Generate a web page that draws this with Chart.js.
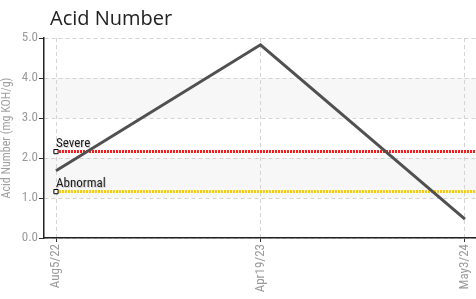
<!DOCTYPE html>
<html>
<head>
<meta charset="utf-8">
<script src="https://cdn.jsdelivr.net/npm/chart.js@4/dist/chart.umd.min.js"></script>
<style>
html,body{margin:0;padding:0;background:#fff;}
#wrap{width:476px;height:299px;position:relative;}
</style>
</head>
<body>
<div id="wrap"><canvas id="c" width="476" height="299"></canvas></div>
<script>
const chartTitle = 'Acid Number';
const yAxisTitle = 'Acid Number (mg KOH/g)';
const categories = ['Aug5/22', 'Apr19/23', 'May3/24'];
const acidValues = [1.68, 4.83, 0.47];
const severeLimit = 2.16;
const abnormalLimit = 1.16;
const limitNames = ['Severe', 'Abnormal'];
const yTicks = [0, 1, 2, 3, 4, 5];
const bands = [[1, 2], [3, 4]];

const NARROW = "'Roboto Condensed','DejaVu Sans Condensed',sans-serif";
const xMin = -0.0587, xMax = 2.054;

const mainData = acidValues.map((v, i) => ({x: i, y: v}));
const severeData = [{x: 0, y: severeLimit}, {x: xMax, y: severeLimit}];
const abnormalData = [{x: 0, y: abnormalLimit}, {x: xMax, y: abnormalLimit}];

const decor = {
  id: 'decor',
  beforeDraw(chart) {
    const {ctx, chartArea: a, scales: {y}} = chart;
    ctx.save();
    ctx.fillStyle = '#fff';
    ctx.fillRect(0, 0, chart.width, chart.height);
    ctx.fillStyle = '#f7f7f7';
    bands.forEach(([lo, hi]) => {
      const y1 = y.getPixelForValue(hi), y2 = y.getPixelForValue(lo);
      ctx.fillRect(a.left, y1, a.right - a.left, y2 - y1);
    });
    ctx.fillStyle = '#222';
    ctx.font = "20px 'Open Sans', sans-serif";
    ctx.textBaseline = 'alphabetic';
    ctx.fillText(chartTitle, 50, 25);
    ctx.restore();
  },
  afterDatasetsDraw(chart) {
    const {ctx} = chart;
    ctx.save();
    ctx.font = '13px ' + NARROW;
    ctx.textBaseline = 'alphabetic';
    [1, 2].forEach((di, k) => {
      const p = chart.getDatasetMeta(di).data[0];
      ctx.fillStyle = 'rgba(0,0,0,0.18)';
      ctx.fillText(limitNames[k], p.x + 1, p.y - 4);
      ctx.fillStyle = '#1a1a1a';
      ctx.fillText(limitNames[k], p.x, p.y - 5);
    });
    ctx.restore();
  }
};

new Chart(document.getElementById('c'), {
  type: 'line',
  data: {
    datasets: [
      {data: mainData, borderColor: '#505050', borderWidth: 3, pointRadius: 0, tension: 0, order: 0},
      {data: severeData, borderColor: '#ff1a1a', borderWidth: 3, borderDash: [2, 1],
       pointRadius: [3, 0], pointStyle: 'rect', pointBackgroundColor: '#fff', pointBorderColor: '#000', pointBorderWidth: 1, order: 1},
      {data: abnormalData, borderColor: '#ffcc00', borderWidth: 3, borderDash: [2, 1],
       pointRadius: [3, 0], pointStyle: 'rect', pointBackgroundColor: '#fff', pointBorderColor: '#000', pointBorderWidth: 1, order: 1}
    ]
  },
  options: {
    responsive: false,
    animation: false,
    layout: {autoPadding: false, padding: {top: 38, right: 0, left: 0, bottom: 0}},
    plugins: {legend: {display: false}, tooltip: {enabled: false}, title: {display: false}},
    scales: {
      x: {
        type: 'linear', min: xMin, max: xMax,
        afterBuildTicks(s) { s.ticks = categories.map((_, i) => ({value: i})); },
        afterFit(s) { s.height = 61; s.paddingLeft = 0; s.paddingRight = 0; },
        ticks: {
          callback: v => categories[v],
          minRotation: 90, maxRotation: 90, autoSkip: false,
          color: '#9a9a9a', font: {family: NARROW, size: 13}, padding: 2
        },
        grid: {color: '#d4d4d4', tickColor: '#333', tickLength: 4, tickBorderDash: []},
        border: {color: '#222', width: 1.5, dash: [4, 3]}
      },
      y: {
        min: 0, max: 5,
        afterBuildTicks(s) { s.ticks = yTicks.map(v => ({value: v})); },
        afterFit(s) { s.width = 44; s.paddingTop = 0; s.paddingBottom = 0; },
        ticks: {
          callback: v => Number(v).toFixed(1),
          color: '#9a9a9a', font: {family: NARROW, size: 13}, padding: 1
        },
        title: {display: true, text: yAxisTitle, color: '#a0a0a0', font: {family: NARROW, size: 12}, padding: {top: 0, bottom: 2}},
        grid: {color: '#d4d4d4', tickColor: '#333', tickLength: 5, tickBorderDash: []},
        border: {color: '#222', width: 1.5, dash: [4, 3]}
      }
    }
  },
  plugins: [decor]
});
</script>
</body>
</html>
